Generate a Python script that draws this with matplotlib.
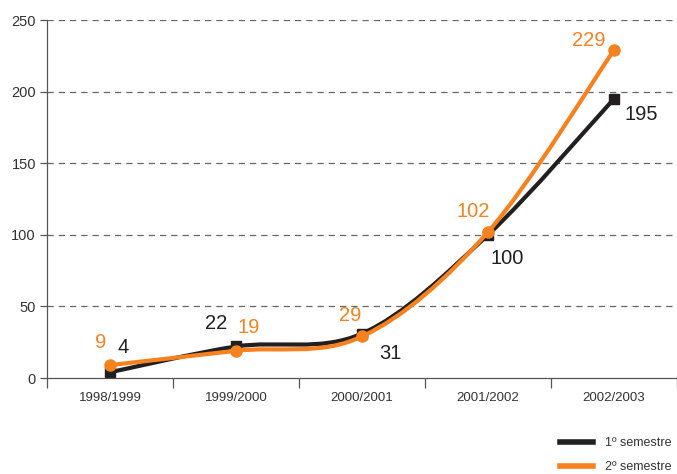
import numpy as np
import matplotlib.pyplot as plt
from matplotlib.path import Path
from matplotlib.patches import PathPatch
from matplotlib.lines import Line2D

plt.rcParams.update({'font.family': ['Liberation Sans', 'DejaVu Sans']})

# data
categories = ['1998/1999', '1999/2000', '2000/2001', '2001/2002', '2002/2003']
sem1 = [4, 22, 31, 100, 195]
sem2 = [9, 19, 29, 102, 229]
sem1_label = '1º semestre'
sem2_label = '2º semestre'

BLACK = '#231f20'
ORANGE = '#f5821f'
GREY = '#555555'

def smooth_path(x, y, t=0.5):
    # catmull-rom style bezier through the points
    x = np.asarray(x, float)
    y = np.asarray(y, float)
    verts = [(x[0], y[0])]
    codes = [Path.MOVETO]
    n = len(x)
    for i in range(n - 1):
        x0, y0 = (x[i - 1], y[i - 1]) if i > 0 else (x[i], y[i])
        x3, y3 = (x[i + 2], y[i + 2]) if i + 2 < n else (x[i + 1], y[i + 1])
        c1 = (x[i] + (x[i + 1] - x0) * t / 3, y[i] + (y[i + 1] - y0) * t / 3)
        c2 = (x[i + 1] - (x3 - x[i]) * t / 3, y[i + 1] - (y3 - y[i]) * t / 3)
        verts += [c1, c2, (x[i + 1], y[i + 1])]
        codes += [Path.CURVE4] * 3
    return Path(verts, codes)

fig = plt.figure(figsize=(6.77, 4.74), dpi=100)
ax = fig.add_axes([47 / 677, 96 / 474, 630 / 677, 358 / 474])

xpos = np.arange(len(categories))

###
### Grid
###
for v in [50, 100, 150, 200, 250]:
    ax.axhline(v, color='#666666', lw=0.9, ls=(0, (5, 4)), zorder=1)

###
### Lines
###
ax.add_patch(PathPatch(smooth_path(xpos, sem1), fill=False, ec=BLACK, lw=3, zorder=3,
                       capstyle='round', joinstyle='round'))
ax.add_patch(PathPatch(smooth_path(xpos, sem2), fill=False, ec=ORANGE, lw=3, zorder=4,
                       capstyle='round', joinstyle='round'))
ax.plot(xpos, sem1, ls='none', marker='s', ms=7, color=BLACK, zorder=3)
ax.plot(xpos, sem2, ls='none', marker='o', ms=8, color=ORANGE, zorder=4)

###
### Data labels (pixel offsets)
###
off1 = [(13, 25), (-20, 23), (28, -20), (19, -24), (27, -16)]
off2 = [(-9, 23), (13, 23), (-12, 21), (-15, 20), (-25, 10)]
for x, v, o in zip(xpos, sem1, off1):
    ax.annotate(str(v), (x, v), xytext=o, textcoords='offset pixels',
                ha='center', va='center', fontsize=14.5, color=BLACK, zorder=5)
for x, v, o in zip(xpos, sem2, off2):
    ax.annotate(str(v), (x, v), xytext=o, textcoords='offset pixels',
                ha='center', va='center', fontsize=14.5, color=ORANGE, zorder=5)

###
### Axes
###
ax.set_xlim(-0.5, 4.5)
ax.set_ylim(0, 250)
ax.set_yticks([0, 50, 100, 150, 200, 250])
ax.set_xticks(np.arange(-0.5, 5, 1))
ax.set_xticklabels([])
ax.set_xticks(xpos, minor=True)
ax.set_xticklabels(categories, minor=True)
ax.tick_params(axis='x', which='major', length=7, width=0.9, color=GREY, direction='out')
ax.tick_params(axis='x', which='minor', length=0, pad=10, labelsize=9.5, labelcolor='#333333')
ax.tick_params(axis='y', length=5, width=0.9, color=GREY, labelsize=10.5,
               labelcolor='#333333', pad=3)
for s in ['top', 'right']:
    ax.spines[s].set_visible(False)
ax.spines['left'].set_color(GREY)
ax.spines['bottom'].set_color(GREY)
ax.spines['left'].set_linewidth(0.9)
ax.spines['bottom'].set_linewidth(0.9)
ax.patch.set_alpha(0)

###
### Legend
###
handles = [Line2D([], [], color=BLACK, lw=4), Line2D([], [], color=ORANGE, lw=4)]
fig.legend(handles, [sem1_label, sem2_label], loc='upper left',
           bbox_to_anchor=(560 / 677, 37 / 474), frameon=False, borderpad=0,
           borderaxespad=0, handlelength=2.6, handletextpad=1.0, labelspacing=1.0,
           fontsize=9, labelcolor='#333333')

plt.savefig('out.png', dpi=100)
